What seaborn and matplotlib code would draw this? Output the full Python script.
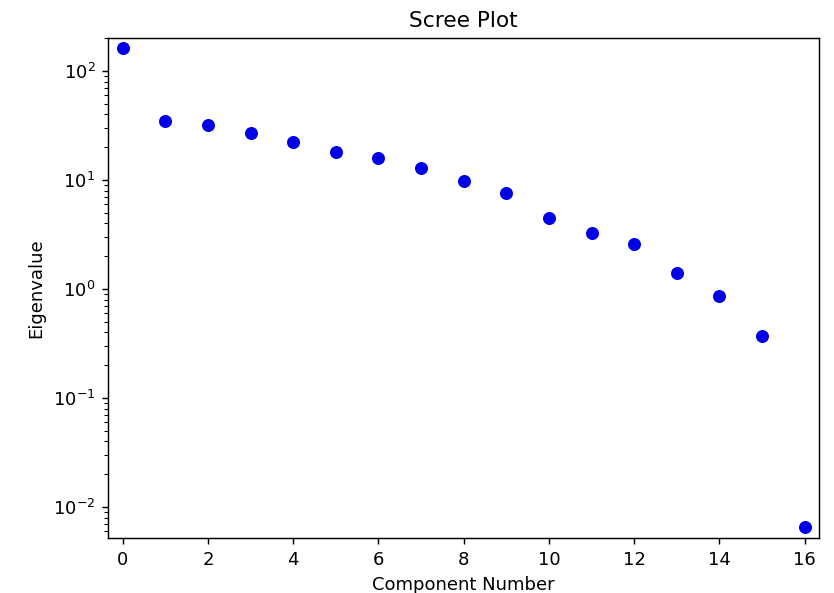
import matplotlib
matplotlib.use("Agg")
import matplotlib.pyplot as plt
import seaborn as sns
import pandas as pd

components = list(range(17))
eigenvalues = [162.6, 34.8, 32.2, 27.2, 22.5, 18.2, 15.8, 12.8, 9.8, 7.64,
               4.51, 3.24, 2.61, 1.39, 0.87, 0.371, 0.00659]

df = pd.DataFrame({"Component Number": components, "Eigenvalue": eigenvalues})

fig = plt.figure(figsize=(834 / 130, 593 / 130), dpi=130)
ax = fig.add_axes([108 / 834, 1 - 538 / 593, (819 - 108) / 834, (538 - 38) / 593])

sns.scatterplot(data=df, x="Component Number", y="Eigenvalue", ax=ax,
                color="#0000e6", s=52, linewidth=0)
ax.set_yscale("log")
ax.set_xlim(-0.345, 16.335)
ax.set_ylim(10 ** -2.284, 10 ** 2.303)
ax.set_xticks(range(0, 17, 2))
ax.set_title("Scree Plot")
ax.set_xlabel("Component Number")
ax.set_ylabel("Eigenvalue")

fig.savefig("out.png", dpi=130)
